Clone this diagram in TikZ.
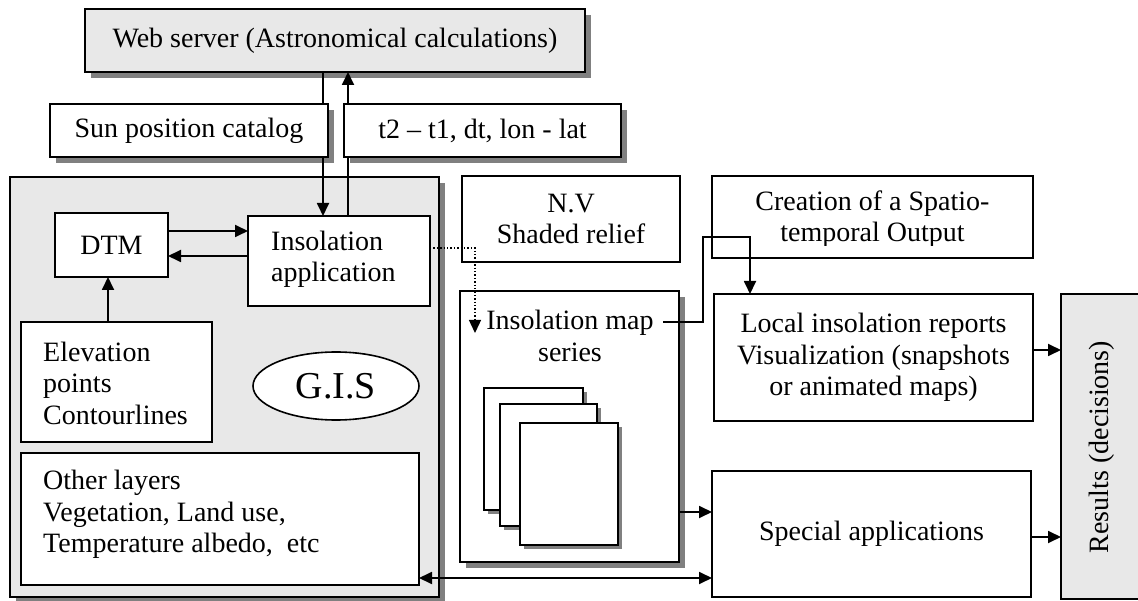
\documentclass[tikz,border=0pt]{standalone}
\usepackage{fontspec}
\setmainfont{Liberation Serif}
\usetikzlibrary{arrows.meta,shadows,shapes.geometric}
\begin{document}
\begin{tikzpicture}[x=1pt,y=-1pt,
  every node/.style={font=\fontsize{28}{31.5}\selectfont},
  box/.style={draw, line width=1.6pt, fill=white, inner sep=0pt, outer sep=0pt, align=center},
  thick box/.style={box, line width=2.2pt},
  sh/.style={drop shadow={shadow xshift=6pt, shadow yshift=-6pt, fill=black!50, opacity=1}},
  shsmall/.style={drop shadow={shadow xshift=4pt, shadow yshift=-4pt, fill=black!50, opacity=1}},
  graybox/.style={fill=black!9},
  conn/.style={line width=1.8pt},
  tip/.tip={Triangle[length=13pt,width=12pt]},
  arr/.style={conn, -tip},
  txt/.style={inner sep=0pt, align=left}
]
\useasboundingbox (0,0) rectangle (1138,601);

% top
\node[thick box, graybox, sh, minimum width=500pt, minimum height=63pt] (web) at (335,40.5) {Web server (Astronomical calculations)};

% GIS container
\node[thick box, graybox, sh, minimum width=429pt, minimum height=420pt] (gis) at (224.5,387) {};
\node[box, minimum width=113pt, minimum height=64pt] (dtm) at (111.5,245) {DTM};
\node[box, minimum width=182pt, minimum height=90pt] (insapp) at (339,261) {};
\node[txt, anchor=west] (insapptxt) at (271,259.5) {Insolation\\application};
\node[box, minimum width=191pt, minimum height=120pt] (elev) at (116.5,382) {};
\node[txt, anchor=west] (elevtxt) at (43,383) {Elevation\\points\\Contourlines};
\node[box, minimum width=398pt, minimum height=132pt] (other) at (220,519) {};
\node[txt, anchor=west] (othertxt) at (43,514.5) {Other layers\\Vegetation, Land use,\\Temperature albedo,\ \ etc};
\node[draw, ellipse, line width=1.6pt, fill=white, minimum width=166pt, minimum height=68pt, inner sep=0pt, font=\fontsize{38}{40}\selectfont] (gislbl) at (336,386) {G.I.S};

% middle column
\node[box, minimum width=218pt, minimum height=86pt] (nv) at (571,219) {N.V\\Shaded relief};
\node[thick box, sh, minimum width=219pt, minimum height=271pt] (mapbox) at (569.5,426.5) {};
\node[txt, align=center] (maptxt) at (570,336) {Insolation map\\series};
\node[thick box, shsmall, minimum width=99pt, minimum height=122pt] (p1) at (533.5,449) {};
\node[thick box, shsmall, minimum width=97pt, minimum height=122pt] (p2) at (548.5,465) {};
\node[thick box, shsmall, minimum width=98pt, minimum height=122pt] (p3) at (569,484) {};

% right column
\node[box, minimum width=321pt, minimum height=82pt] (creation) at (872.5,217) {};
\begin{scope}
\clip (712,176) rectangle (1033,246);
\node[txt, align=center] (creationtxt) at (872.5,219) {Creation of a Spatio-\\temporal Output};
\end{scope}
\node[box, minimum width=319pt, minimum height=127pt] (local) at (873.5,357.5) {Local insolation reports\\Visualization (snapshots\\or animated maps)};
\node[box, minimum width=319pt, minimum height=126pt] (special) at (871.5,534) {Special applications};
\node[box, graybox, minimum width=84pt, minimum height=305pt] (results) at (1103,446.5) {};
\node[rotate=90, inner sep=0pt] (restxt) at (1102,447) {Results (decisions)};

% connector helpers
\coordinate (xa) at (323,0);
\coordinate (xb) at (348,0);
\coordinate (xc) at (108,0);
\coordinate (ya) at (0,231);
\coordinate (yb) at (0,256);
\coordinate (yc) at (0,512);
\coordinate (yd) at (0,578);
\coordinate (ye) at (0,350);
\coordinate (yf) at (0,537);
\coordinate (dbend) at (475,248);
\coordinate (dend) at (475,333);
\coordinate (m1) at (663,322);
\coordinate (m2) at (703,237);
\coordinate (xl) at (750,0);

% sun / t2 boxes
\node[thick box, sh, minimum width=278pt, minimum height=53pt] (sun) at (189,130.5) {Sun position catalog};
\node[thick box, sh, minimum width=277pt, minimum height=53pt] (t2) at (482.5,130.5) {t2 – t1, dt, lon - lat};

\draw[conn] (xa |- web.south) -- (xa |- sun.north);
\draw[arr] (xa |- sun.south) -- (xa |- insapp.north);
\draw[conn] (xb |- insapp.north) -- (xb |- t2.south);
\draw[arr] (xb |- t2.north) -- (xb |- web.south);
\draw[arr] (dtm.east |- ya) -- (insapp.west |- ya);
\draw[arr] (insapp.west |- yb) -- (dtm.east |- yb);
\draw[arr] (xc |- elev.north) -- (xc |- dtm.south);
\draw[line width=1.4pt, dotted, -tip] (insapp.east |- dbend) -- (dbend) -- (dend);
\draw[arr] (m1) -| (m2) -| (xl |- local.north);
\draw[arr] (mapbox.east |- yc) -- (special.west |- yc);
\draw[conn, tip-tip] (other.east |- yd) -- (special.west |- yd);
\draw[arr] (local.east |- ye) -- (results.west |- ye);
\draw[arr] (special.east |- yf) -- (results.west |- yf);
\end{tikzpicture}
\end{document}
